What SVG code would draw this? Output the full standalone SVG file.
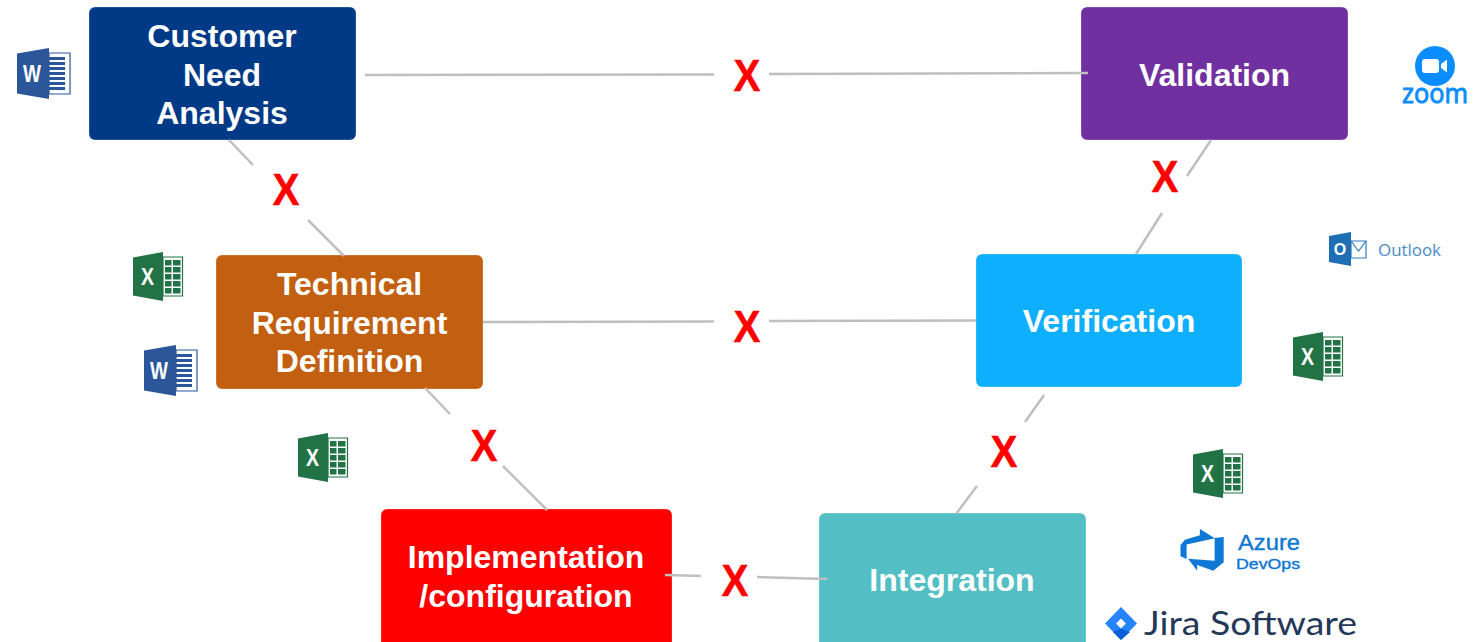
<svg xmlns="http://www.w3.org/2000/svg" xmlns:xlink="http://www.w3.org/1999/xlink" width="1473" height="642" viewBox="0 0 1473 642">
<style>
.box{stroke:#fff;stroke-opacity:.25;stroke-width:1}
.lbl{font:bold 32px "Liberation Sans",Arial,sans-serif;fill:#fff;text-anchor:middle}
.x{font:bold 44px "Liberation Sans",Arial,sans-serif;fill:#ff0000;text-anchor:middle;stroke:#ff0000;stroke-width:.4}
.c{stroke:#bfbfbf;stroke-width:2.5;fill:none}
.ic{font-family:"Liberation Sans",Arial,sans-serif;font-weight:bold;fill:#fff;text-anchor:middle}
.brand{font-family:"Open Sans","Noto Sans",sans-serif}
.az{font-family:"Liberation Sans",Arial,sans-serif;fill:#0f78d4;stroke:#0f78d4;stroke-width:.4}
</style>
<defs>
<symbol id="word" viewBox="0 0 53 51" overflow="visible">
<path d="M32 5H53V46H32Z" fill="#fff" stroke="#2b579a" stroke-width="1.2"/>
<path d="M32 10.500H48M32 15.500H48M32 20.500H48M32 25.500H48M32 30.500H48M32 35.500H48M32 40.500H48" stroke="#2b579a" stroke-width="2.800"/>
<path d="M0 5.500 32 0V51L0 45.500Z" fill="#2b579a"/>
<text x="15" y="34" class="ic" font-size="23" textLength="18" lengthAdjust="spacingAndGlyphs">W</text>
</symbol>
<symbol id="excel" viewBox="0 0 50 49" overflow="visible">
<path d="M30 5H49.500V44H30Z" fill="#fff" stroke="#217346" stroke-width="1.200"/>
<path d="M32 8H38.500V13.500H32ZM40 8H47.500V13.500H40ZM32 15H38.500V20.500H32ZM40 15H47.500V20.500H40ZM32 22H38.500V27.500H32ZM40 22H47.500V27.500H40ZM32 29H38.500V34.500H32ZM40 29H47.500V34.500H40ZM32 36H38.500V41.500H32ZM40 36H47.500V41.500H40Z" fill="#217346"/>
<path d="M0 5.500 30 0V49L0 43.500Z" fill="#217346"/>
<text x="14.500" y="33" class="ic" font-size="24" textLength="13" lengthAdjust="spacingAndGlyphs">X</text>
</symbol>
</defs>
<rect width="1473" height="642" fill="#fff"/>
<g id="node-need"><rect class="box" x="89" y="7" width="267" height="133" rx="6" fill="#003a87"/>
<text class="lbl" x="222" y="47">Customer</text><text class="lbl" x="222" y="86">Need</text><text class="lbl" x="222" y="124">Analysis</text></g>
<g id="node-validation"><rect class="box" x="1081" y="7" width="267" height="133" rx="6" fill="#7030a0"/>
<text class="lbl" x="1214.500" y="86">Validation</text></g>
<g id="node-requirement"><rect class="box" x="216" y="255" width="267" height="134" rx="6" fill="#c25f10"/>
<text class="lbl" x="349.500" y="295">Technical</text><text class="lbl" x="349.500" y="334">Requirement</text><text class="lbl" x="349.500" y="372">Definition</text></g>
<g id="node-verification"><rect class="box" x="976" y="254" width="266" height="133" rx="6" fill="#0fafff"/>
<text class="lbl" x="1109" y="332">Verification</text></g>
<g id="node-implementation"><rect class="box" x="381" y="509" width="291" height="141" rx="6" fill="#ff0000"/>
<text class="lbl" x="526" y="568">Implementation</text><text class="lbl" x="526" y="607">/configuration</text></g>
<g id="node-integration"><rect class="box" x="819" y="513" width="267" height="137" rx="6" fill="#53bfc5"/>
<text class="lbl" x="952" y="591">Integration</text></g>
<g id="connectors">
<path class="c" d="M365 75 714 74.500M769 74 1088 73"/>
<path class="c" d="M229 140 253 165M308 220 344 256"/>
<path class="c" d="M1211 140 1187 176M1162 213 1136 254"/>
<path class="c" d="M483 322 714 321.500M769 321 976 320.500"/>
<path class="c" d="M425 388 450 414M503 466 547 510"/>
<path class="c" d="M1044 395 1025 422M977 486 956 514"/>
<path class="c" d="M665 575 701 576M757 577 827 579"/>
</g>
<g id="marks">
<text class="x" x="747" y="91" textLength="27" lengthAdjust="spacingAndGlyphs">X</text>
<text class="x" x="286" y="205" textLength="27" lengthAdjust="spacingAndGlyphs">X</text>
<text class="x" x="1165" y="192" textLength="27" lengthAdjust="spacingAndGlyphs">X</text>
<text class="x" x="747" y="342" textLength="27" lengthAdjust="spacingAndGlyphs">X</text>
<text class="x" x="484" y="461" textLength="27" lengthAdjust="spacingAndGlyphs">X</text>
<text class="x" x="1004" y="467" textLength="27" lengthAdjust="spacingAndGlyphs">X</text>
<text class="x" x="735" y="596" textLength="27" lengthAdjust="spacingAndGlyphs">X</text>
</g>
<g id="tool-word-1"><use xlink:href="#word" href="#word" x="17" y="48" width="53" height="51"/></g>
<g id="tool-word-2"><use xlink:href="#word" href="#word" x="144" y="345" width="53" height="51"/></g>
<g id="tool-excel-1"><use xlink:href="#excel" href="#excel" x="133" y="252" width="50" height="49"/></g>
<g id="tool-excel-2"><use xlink:href="#excel" href="#excel" x="298" y="433" width="50" height="49"/></g>
<g id="tool-excel-3"><use xlink:href="#excel" href="#excel" x="1293" y="332" width="50" height="49"/></g>
<g id="tool-excel-4"><use xlink:href="#excel" href="#excel" x="1193" y="449" width="50" height="49"/></g>
<g id="tool-zoom">
<circle cx="1435" cy="66" r="20" fill="#0b8cff"/>
<rect x="1422" y="59" width="17" height="14" rx="3" fill="#fff"/>
<path d="M1441 64 1447 59.500V72.500L1441 68Z" fill="#fff"/>
<text x="1402" y="103" class="brand" font-size="28" font-weight="500" fill="#0b8cff" stroke="#0b8cff" stroke-width="1" textLength="66" lengthAdjust="spacingAndGlyphs">zoom</text>
</g>
<g id="tool-outlook">
<path d="M1351 241H1366V258H1351Z" fill="#fff" stroke="#2f7cc0" stroke-width="1.200"/>
<path d="M1351 241 1358.500 251 1366 241" fill="none" stroke="#2f7cc0" stroke-width="1.200"/>
<path d="M1329 236 1351 232V266L1329 262Z" fill="#1e6eb5"/>
<text x="1340" y="255" class="ic" font-size="16">O</text>
<text x="1378" y="256" class="brand" font-size="17" fill="#4a8cc7" textLength="63" lengthAdjust="spacingAndGlyphs">Outlook</text>
</g>
<g id="tool-azure">
<path transform="translate(1179.500 526.500) scale(2.6)" fill="#0f78d4" d="M17 4v9.740l-4 3.280-6.200-2.260V17L3.290 12.410l10.230.800V4.440zm-3.410.490L7.850 1v2.350L2.080 5.070.380 7.150v4.320l2.360 1V6.930z"/>
<text x="1238" y="549.500" class="az" font-size="22" textLength="62" lengthAdjust="spacingAndGlyphs">Azure</text>
<text x="1236" y="568.500" class="az" font-size="15.500" textLength="64" lengthAdjust="spacingAndGlyphs">DevOps</text>
</g>
<g id="tool-jira">
<path d="M1121 607 1137 623.500 1121 640 1105 623.500Z" fill="#2684ff"/>
<path d="M1121 628.500 1130 632 1121 640 1113 632Z" fill="#0a5fd8"/>
<path d="M1121 618.500 1126 623.500 1121 628.500 1116 623.500Z" fill="#fff"/>
<text x="1144" y="635" font-family="Lato,sans-serif" font-size="32.500" fill="#253858" textLength="213" lengthAdjust="spacingAndGlyphs">Jira Software</text>
</g>
</svg>
